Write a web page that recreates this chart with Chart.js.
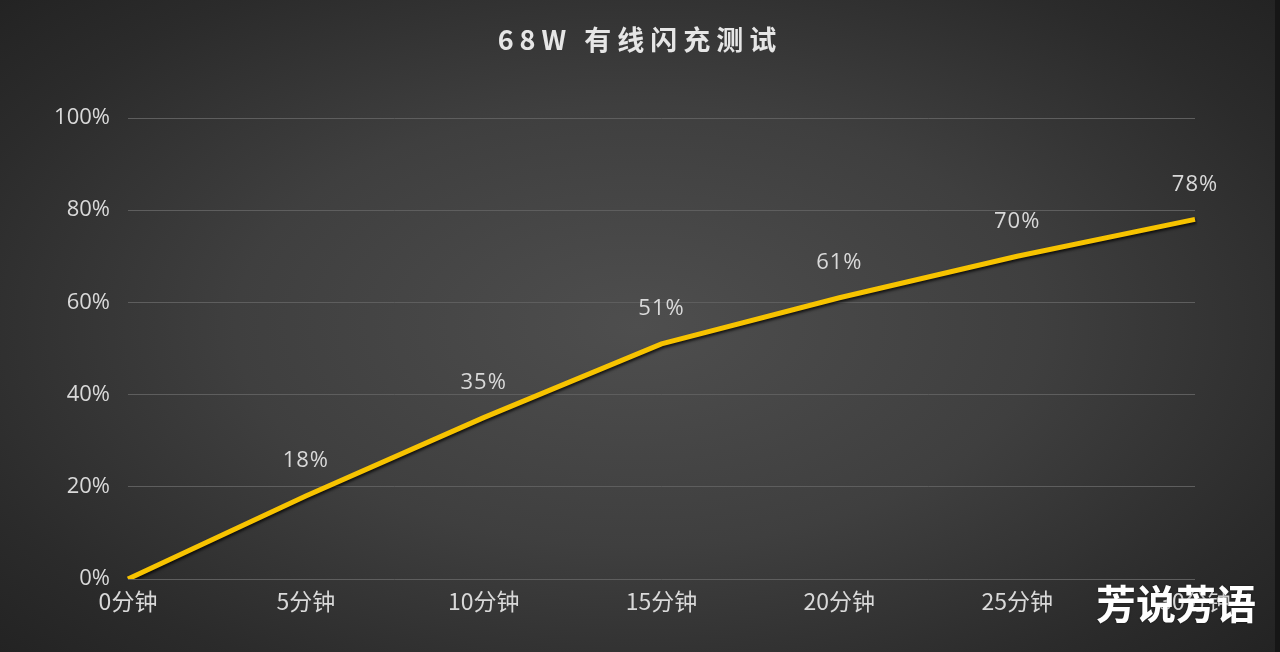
<!DOCTYPE html>
<html>
<head>
<meta charset="utf-8">
<script src="https://cdn.jsdelivr.net/npm/chart.js@4.4.1/dist/chart.umd.min.js"></script>
<style>
  html, body { margin: 0; padding: 0; background: #1e1e1e; }
  #wrap {
    position: relative; width: 1275px; height: 652px;
    border-right: 5px solid #161616;
    background: radial-gradient(ellipse 70% 75% at 50% 50%, #4e4e4e 0%, #3f3f3f 45%, #2b2b2b 80%, #222222 100%);
  }
  canvas { display: block; }
</style>
</head>
<body>
<div id="wrap"><canvas id="c" width="1275" height="652"></canvas></div>
<script>
const categories = ['0分钟', '5分钟', '10分钟', '15分钟', '20分钟', '25分钟', '30分钟'];
const chargeValues = [0, 18, 35, 51, 61, 70, 78];
const yTickValues = [0, 20, 40, 60, 80, 100];
const titleText = '68W 有线闪充测试';
const watermarkText = '芳说芳语';

const textColor = '#d9d9d9';

const extrasPlugin = {
  id: 'extras',
  beforeDatasetDraw(chart) {
    const ctx = chart.ctx;
    ctx.save();
    ctx.shadowColor = 'rgba(0,0,0,0.75)';
    ctx.shadowBlur = 3;
    ctx.shadowOffsetX = 1;
    ctx.shadowOffsetY = 2;
  },
  afterDatasetDraw(chart) {
    chart.ctx.restore();
  },
  afterDraw(chart) {
    const ctx = chart.ctx;
    const meta = chart.getDatasetMeta(0);
    // data labels
    ctx.save();
    ctx.font = '22px "Open Sans", sans-serif';
    if ('letterSpacing' in ctx) ctx.letterSpacing = '1px';
    ctx.fillStyle = textColor;
    ctx.textAlign = 'center';
    ctx.textBaseline = 'middle';
    meta.data.forEach((pt, i) => {
      if (i === 0) return;
      ctx.fillText(chargeValues[i] + '%', pt.x, pt.y - 35);
    });
    ctx.restore();
    // title
    ctx.save();
    ctx.font = 'bold 27px "Noto Sans CJK SC", sans-serif';
    if ('letterSpacing' in ctx) ctx.letterSpacing = '6px';
    ctx.fillStyle = '#e6e6e6';
    ctx.textAlign = 'center';
    ctx.textBaseline = 'middle';
    ctx.fillText(titleText, 640, 40);
    ctx.restore();
    // watermark
    ctx.save();
    ctx.font = 'bold 40px "Noto Sans CJK SC", sans-serif';
    ctx.fillStyle = '#ffffff';
    ctx.textAlign = 'left';
    ctx.textBaseline = 'middle';
    ctx.shadowColor = 'rgba(0,0,0,0.5)';
    ctx.shadowBlur = 2;
    ctx.fillText(watermarkText, 1096, 604);
    ctx.restore();
  }
};

new Chart(document.getElementById('c'), {
  type: 'line',
  data: {
    labels: categories,
    datasets: [{
      data: chargeValues,
      borderColor: '#f7c300',
      borderWidth: 5,
      pointRadius: 0,
      tension: 0,
      fill: false,
      borderCapStyle: 'butt'
    }]
  },
  options: {
    responsive: false,
    animation: false,
    layout: { padding: { left: 0, right: 80, top: 118, bottom: 0 } },
    plugins: { legend: { display: false }, title: { display: false }, tooltip: { enabled: false } },
    scales: {
      x: {
        offset: false,
        grid: { display: false, drawTicks: false },
        border: { display: false },
        ticks: { color: textColor, font: { family: '"Noto Sans CJK SC", sans-serif', size: 23 }, padding: 8, maxRotation: 0 },
        afterFit(s) { s.height = 73; }
      },
      y: {
        min: 0, max: 100,
        afterBuildTicks(s) { s.ticks = yTickValues.map(v => ({ value: v })); },
        grid: { color: '#5e5e5e', lineWidth: 1, drawTicks: false },
        border: { display: false },
        ticks: { color: textColor, font: { family: '"Open Sans", sans-serif', size: 22 }, padding: 18, callback: v => v + '%' },
        afterFit(s) { s.width = 128; }
      }
    }
  },
  plugins: [extrasPlugin]
});
</script>
</body>
</html>
